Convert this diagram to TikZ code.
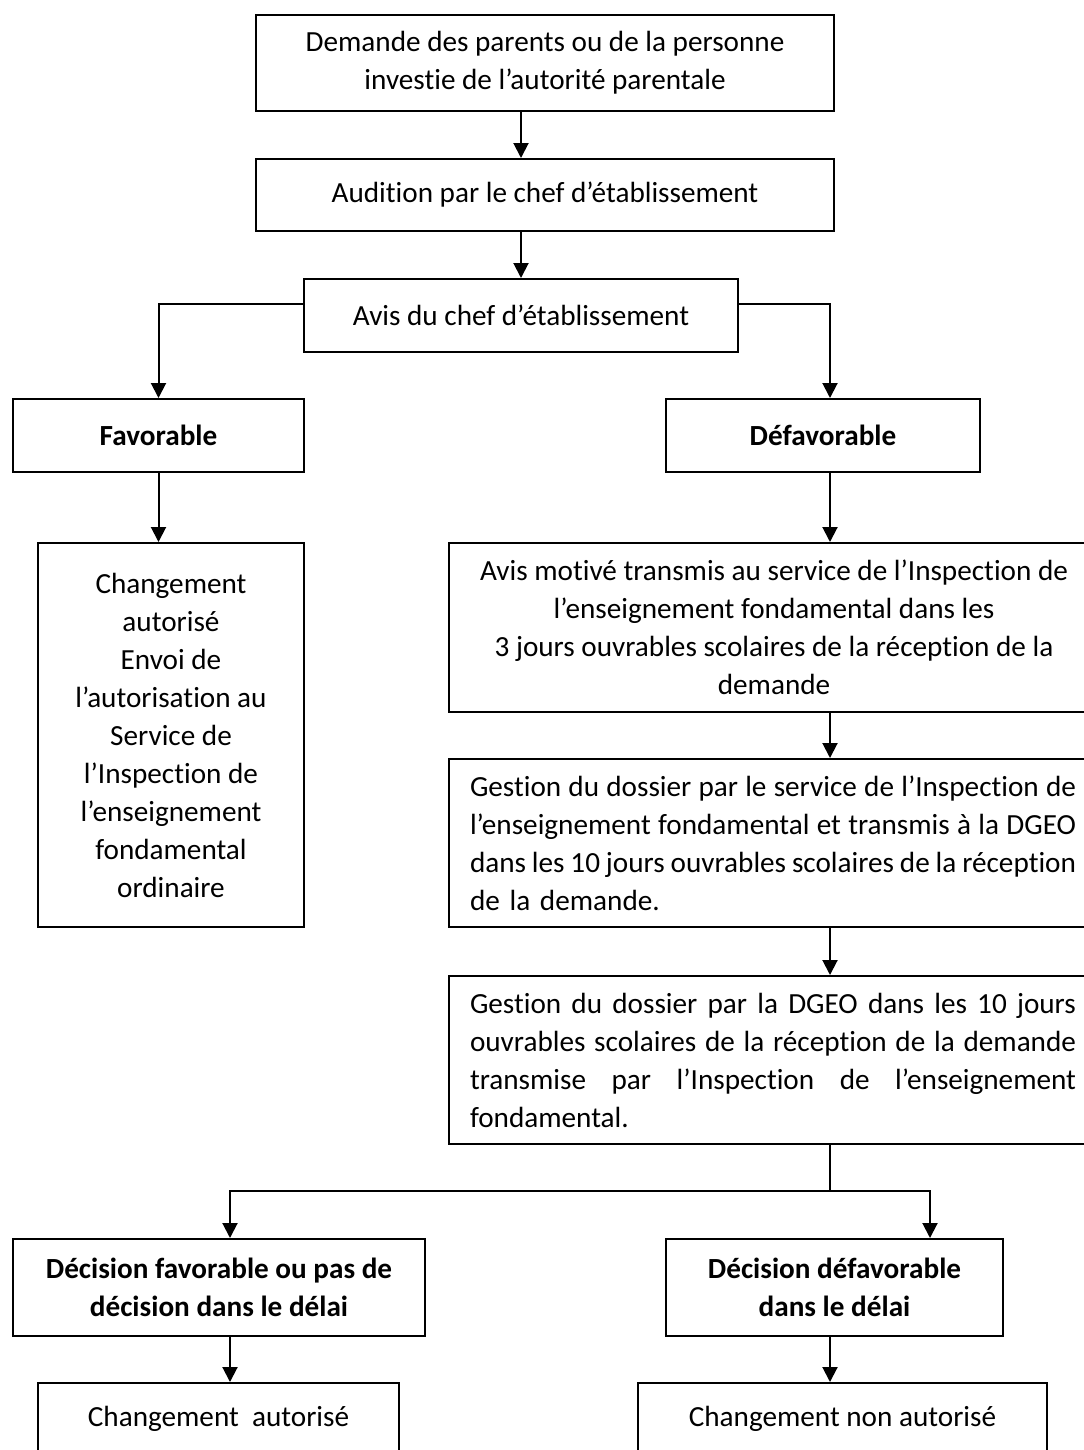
\documentclass[tikz,border=0pt]{standalone}
\usepackage{fontspec}
\setmainfont{Carlito}[Ligatures=NoCommon]
\usetikzlibrary{arrows.meta}
\newcommand{\fullline}[1]{\makebox[\linewidth][s]{\spaceskip=0.22em plus 0.3em minus 0.16em #1}}

\begin{document}
\begin{tikzpicture}[x=0.5pt, y=0.5pt,
    box/.style={draw=black, line width=1pt, inner sep=0pt, align=center, anchor=north west, font=\fontsize{14.6}{19}\selectfont},
    boldbox/.style={box, font=\fontsize{14.6}{19}\selectfont\bfseries},
    widebox/.style={box, text width=303pt, inner xsep=10.5pt},
    link/.style={black, line width=1pt, -{Triangle[length=7.5pt,width=7.5pt]}}]
    \useasboundingbox (0,0) rectangle (1083,-1450);
    \coordinate (lcol) at (230,0);
    \coordinate (rcol) at (830,0);
    \coordinate (rfork) at (930,0);
    \coordinate (fork) at (830,-1191);
    \node [box, minimum width=289pt, minimum height=48pt] (demande) at (255,-14) {Demande des parents ou de la personne\\investie de l’autorité parentale};
    \node [box, minimum width=289pt, minimum height=36pt] (audition) at (255,-158) {Audition par le chef d’établissement};
    \node [box, minimum width=217pt, minimum height=36.5pt] (avischef) at (303,-278) {Avis du chef d’établissement};
    \node [boldbox, minimum width=145.5pt, minimum height=36.5pt] (favorable) at (12,-398) {Favorable};
    \node [boldbox, minimum width=157pt, minimum height=36.5pt] (defavorable) at (665,-398) {Défavorable};
    \node [box, minimum width=133pt, minimum height=192pt] (autorise) at (37,-542) {Changement\\autorisé\\Envoi de\\l’autorisation au\\Service de\\l’Inspection de\\l’enseignement\\fondamental\\ordinaire};
    \node [box, minimum width=325pt, minimum height=84.5pt] (motive) at (448,-542) {Avis motivé transmis au service de l’Inspection de\\l’enseignement fondamental dans les\\3 jours ouvrables scolaires de la réception de la\\demande};
    \node [widebox, align=left, minimum height=84pt] (inspection) at (448,-758) {\fullline{Gestion du dossier par le service de l’Inspection de}\\\fullline{l’enseignement fondamental et transmis à la DGEO}\\\fullline{dans les 10 jours ouvrables scolaires de la réception}\\de la demande.};
    \node [widebox, align=left, minimum height=84pt] (dgeo) at (448,-975) {\fullline{Gestion du dossier par la DGEO dans les 10 jours}\\\fullline{ouvrables scolaires de la réception de la demande}\\\fullline{transmise par l’Inspection de l’enseignement}\\fondamental.};
    \node [boldbox, minimum width=206pt, minimum height=48.5pt] (decfav) at (12,-1238) {Décision favorable ou pas de\\décision dans le délai};
    \node [boldbox, minimum width=168.5pt, minimum height=48.5pt] (decdefav) at (665,-1238) {Décision défavorable\\dans le délai};
    \node [box, minimum width=180.5pt, minimum height=36pt] (chgok) at (37,-1382) {Changement\ \ autorisé};
    \node [box, minimum width=204.5pt, minimum height=36pt] (chgnon) at (637,-1382) {Changement non autorisé};
    \draw [link] (demande.south -| avischef.north) -- (audition.north -| avischef.north);
    \draw [link] (audition.south -| avischef.north) -- (avischef.north);
    \draw [link] ([yshift=6pt]avischef.west) -| (favorable.north);
    \draw [link] ([yshift=6pt]avischef.east) -| (defavorable.north -| rcol);
    \draw [link] (favorable.south) -- (favorable.south |- autorise.north);
    \draw [link] (defavorable.south -| rcol) -- (motive.north -| rcol);
    \draw [link] (motive.south -| rcol) -- (inspection.north -| rcol);
    \draw [link] (inspection.south -| rcol) -- (dgeo.north -| rcol);
    \draw [black, line width=1pt] (dgeo.south -| rcol) -- (fork);
    \draw [link] (fork) -| (decfav.north -| lcol);
    \draw [link] (fork) -| (decdefav.north -| rfork);
    \draw [link] (decfav.south -| lcol) -- (chgok.north -| lcol);
    \draw [link] (decdefav.south -| rcol) -- (chgnon.north -| rcol);
\end{tikzpicture}
\end{document}
